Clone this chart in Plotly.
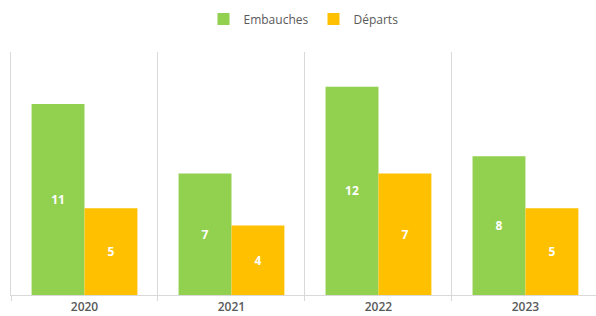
import plotly.graph_objects as go

years = ["2020", "2021", "2022", "2023"]
embauches = [11, 7, 12, 8]
departs = [5, 4, 7, 5]

GREEN = "#92D050"
ORANGE = "#FFC000"
GRID = "#D9D9D9"
TEXT = "#595959"

fig = go.Figure()
fig.add_trace(go.Bar(
    name="Embauches", x=years, y=embauches, marker_color=GREEN,
    text=embauches, textposition="inside", insidetextanchor="middle",
    textfont=dict(color="white", size=12, family="Open Sans", weight="bold"),
    marker_line_width=0,
))
fig.add_trace(go.Bar(
    name="Départs", x=years, y=departs, marker_color=ORANGE,
    text=departs, textposition="inside", insidetextanchor="middle",
    textfont=dict(color="white", size=12, family="Open Sans", weight="bold"),
    marker_line_width=0,
))

fig.update_layout(
    width=596, height=316,
    margin=dict(l=11, r=0, t=52, b=21, autoexpand=False),
    barmode="group", bargap=0.28, bargroupgap=0,
    plot_bgcolor="white", paper_bgcolor="white",
    font=dict(family="Open Sans", color=TEXT, size=12),
    legend=dict(orientation="h", x=0.5, xanchor="center", y=1 - 19 / 316,
                yref="container", yanchor="middle",
                font=dict(size=12, color=TEXT), itemwidth=30),
    uniformtext=dict(minsize=8, mode="show"),
)
fig.update_xaxes(
    type="category", tickson="boundaries", showgrid=True, gridcolor=GRID,
    gridwidth=1, ticks="outside", ticklen=5, tickcolor=GRID,
    showline=True, linecolor=GRID, linewidth=1,
    range=[-0.5, 3.48],
    tickfont=dict(size=12, color=TEXT, weight=600), ticklabelstandoff=1,
)
fig.update_yaxes(
    range=[0, 14], showgrid=False, showticklabels=False, zeroline=False,
    showline=True, linecolor=GRID, linewidth=1,
)

fig.write_html(
    "out.html",
    config={"displayModeBar": False},
    post_script="document.body.style.margin='0';document.body.style.padding='0';",
)
